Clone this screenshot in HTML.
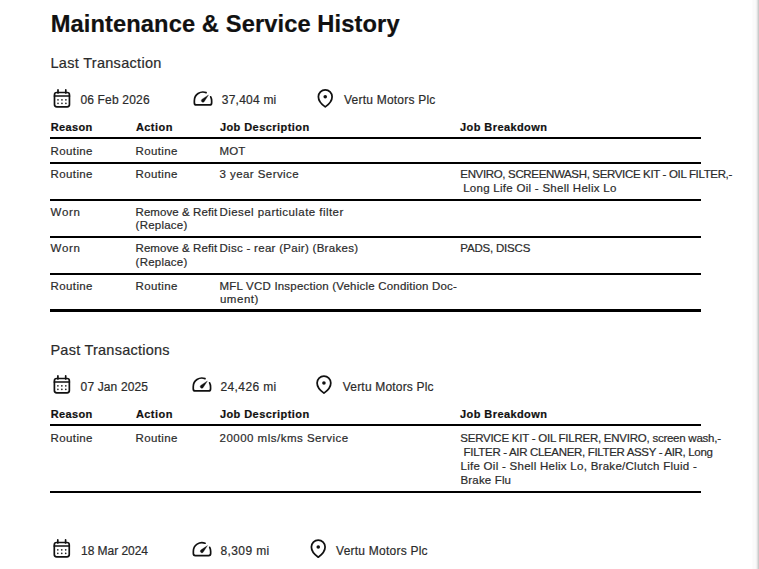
<!DOCTYPE html><html><head><meta charset='utf-8'><title>Maintenance &amp; Service History</title><style>

*{margin:0;padding:0;box-sizing:border-box}
html,body{width:759px;height:569px;overflow:hidden;background:#fff}
body{position:relative;font-family:"Liberation Sans",sans-serif}
.t{position:absolute;white-space:pre;line-height:1;-webkit-text-stroke:0.2px currentColor}
.l{position:absolute;background:#000}

</style></head><body>
<div class=t style='left:50.65px;top:13px;font-size:23.7px;font-weight:700;color:#111;letter-spacing:0.096px'>Maintenance &amp; Service History</div>
<div class=t style='left:50.45px;top:56px;font-size:14.5px;font-weight:400;color:#2b2b2b;letter-spacing:0.304px'>Last Transaction</div>
<div class=t style='left:80.40px;top:94px;font-size:12px;font-weight:400;color:#2b2b2b;letter-spacing:0.179px'>06 Feb 2026</div>
<div class=t style='left:221.80px;top:94px;font-size:12px;font-weight:400;color:#2b2b2b;letter-spacing:0.221px'>37,404 mi</div>
<div class=t style='left:344.00px;top:94px;font-size:12px;font-weight:400;color:#2b2b2b;letter-spacing:0.218px'>Vertu Motors Plc</div>
<div class=t style='left:50.75px;top:122px;font-size:11px;font-weight:700;color:#111;letter-spacing:0.367px'>Reason</div>
<div class=t style='left:135.90px;top:122px;font-size:11px;font-weight:700;color:#111;letter-spacing:0.460px'>Action</div>
<div class=t style='left:219.90px;top:122px;font-size:11px;font-weight:700;color:#111;letter-spacing:0.435px'>Job Description</div>
<div class=t style='left:460.10px;top:122px;font-size:11px;font-weight:700;color:#111;letter-spacing:0.410px'>Job Breakdown</div>
<div class=t style='left:50.60px;top:146px;font-size:11.5px;font-weight:400;color:#2b2b2b;letter-spacing:0.376px'>Routine</div>
<div class=t style='left:135.50px;top:146px;font-size:11.5px;font-weight:400;color:#2b2b2b;letter-spacing:0.376px'>Routine</div>
<div class=t style='left:219.50px;top:146px;font-size:11.5px;font-weight:400;color:#2b2b2b;letter-spacing:0.088px'>MOT</div>
<div class=t style='left:50.60px;top:169px;font-size:11.5px;font-weight:400;color:#2b2b2b;letter-spacing:0.376px'>Routine</div>
<div class=t style='left:135.50px;top:169px;font-size:11.5px;font-weight:400;color:#2b2b2b;letter-spacing:0.376px'>Routine</div>
<div class=t style='left:219.50px;top:169px;font-size:11.5px;font-weight:400;color:#2b2b2b;letter-spacing:0.438px'>3 year Service</div>
<div class=t style='left:460.30px;top:169px;font-size:11.5px;font-weight:400;color:#2b2b2b;letter-spacing:-0.341px'>ENVIRO, SCREENWASH, SERVICE KIT - OIL FILTER,-</div>
<div class=t style='left:459.73px;top:183px;font-size:11.5px;font-weight:400;color:#2b2b2b;letter-spacing:0.276px'> Long Life Oil - Shell Helix Lo</div>
<div class=t style='left:50.60px;top:207px;font-size:11.5px;font-weight:400;color:#2b2b2b;letter-spacing:0.709px'>Worn</div>
<div class=t style='left:135.50px;top:207px;font-size:11.5px;font-weight:400;color:#2b2b2b;letter-spacing:0.082px'>Remove &amp; Refit</div>
<div class=t style='left:219.50px;top:207px;font-size:11.5px;font-weight:400;color:#2b2b2b;letter-spacing:0.442px'>Diesel particulate filter</div>
<div class=t style='left:135.60px;top:220px;font-size:11.5px;font-weight:400;color:#2b2b2b;letter-spacing:0.222px'>(Replace)</div>
<div class=t style='left:50.60px;top:243px;font-size:11.5px;font-weight:400;color:#2b2b2b;letter-spacing:0.709px'>Worn</div>
<div class=t style='left:135.50px;top:243px;font-size:11.5px;font-weight:400;color:#2b2b2b;letter-spacing:0.082px'>Remove &amp; Refit</div>
<div class=t style='left:219.50px;top:243px;font-size:11.5px;font-weight:400;color:#2b2b2b;letter-spacing:0.290px'>Disc - rear (Pair) (Brakes)</div>
<div class=t style='left:460.30px;top:243px;font-size:11.5px;font-weight:400;color:#2b2b2b;letter-spacing:-0.193px'>PADS, DISCS</div>
<div class=t style='left:135.60px;top:257px;font-size:11.5px;font-weight:400;color:#2b2b2b;letter-spacing:0.222px'>(Replace)</div>
<div class=t style='left:50.60px;top:281px;font-size:11.5px;font-weight:400;color:#2b2b2b;letter-spacing:0.376px'>Routine</div>
<div class=t style='left:135.50px;top:281px;font-size:11.5px;font-weight:400;color:#2b2b2b;letter-spacing:0.376px'>Routine</div>
<div class=t style='left:219.50px;top:281px;font-size:11.5px;font-weight:400;color:#2b2b2b;letter-spacing:0.204px'>MFL VCD Inspection (Vehicle Condition Doc-</div>
<div class=t style='left:219.90px;top:294px;font-size:11.5px;font-weight:400;color:#2b2b2b;letter-spacing:0.548px'>ument)</div>
<div class=t style='left:50.45px;top:343px;font-size:14.5px;font-weight:400;color:#2b2b2b;letter-spacing:0.243px'>Past Transactions</div>
<div class=t style='left:80.60px;top:381px;font-size:12px;font-weight:400;color:#2b2b2b;letter-spacing:0.132px'>07 Jan 2025</div>
<div class=t style='left:220.50px;top:381px;font-size:12px;font-weight:400;color:#2b2b2b;letter-spacing:0.383px'>24,426 mi</div>
<div class=t style='left:342.80px;top:381px;font-size:12px;font-weight:400;color:#2b2b2b;letter-spacing:0.185px'>Vertu Motors Plc</div>
<div class=t style='left:50.75px;top:409px;font-size:11px;font-weight:700;color:#111;letter-spacing:0.367px'>Reason</div>
<div class=t style='left:135.90px;top:409px;font-size:11px;font-weight:700;color:#111;letter-spacing:0.460px'>Action</div>
<div class=t style='left:219.90px;top:409px;font-size:11px;font-weight:700;color:#111;letter-spacing:0.435px'>Job Description</div>
<div class=t style='left:460.10px;top:409px;font-size:11px;font-weight:700;color:#111;letter-spacing:0.410px'>Job Breakdown</div>
<div class=t style='left:50.60px;top:433px;font-size:11.5px;font-weight:400;color:#2b2b2b;letter-spacing:0.376px'>Routine</div>
<div class=t style='left:135.50px;top:433px;font-size:11.5px;font-weight:400;color:#2b2b2b;letter-spacing:0.376px'>Routine</div>
<div class=t style='left:219.50px;top:433px;font-size:11.5px;font-weight:400;color:#2b2b2b;letter-spacing:0.491px'>20000 mls/kms Service</div>
<div class=t style='left:460.30px;top:433px;font-size:11.5px;font-weight:400;color:#2b2b2b;letter-spacing:-0.246px'>SERVICE KIT - OIL FILRER, ENVIRO, screen wash,-</div>
<div class=t style='left:460.74px;top:447px;font-size:11.5px;font-weight:400;color:#2b2b2b;letter-spacing:-0.333px'> FILTER - AIR CLEANER, FILTER ASSY - AIR, Long</div>
<div class=t style='left:460.50px;top:461px;font-size:11.5px;font-weight:400;color:#2b2b2b;letter-spacing:0.275px'>Life Oil - Shell Helix Lo, Brake/Clutch Fluid -</div>
<div class=t style='left:460.50px;top:475px;font-size:11.5px;font-weight:400;color:#2b2b2b;letter-spacing:0.160px'>Brake Flu</div>
<div class=t style='left:81.00px;top:545px;font-size:12px;font-weight:400;color:#2b2b2b;letter-spacing:-0.040px'>18 Mar 2024</div>
<div class=t style='left:220.50px;top:545px;font-size:12px;font-weight:400;color:#2b2b2b;letter-spacing:0.392px'>8,309 mi</div>
<div class=t style='left:336.10px;top:545px;font-size:12px;font-weight:400;color:#2b2b2b;letter-spacing:0.231px'>Vertu Motors Plc</div>
<div class=l style='left:50px;top:137px;width:651px;height:2px'></div>
<div class=l style='left:50px;top:162px;width:651px;height:2px'></div>
<div class=l style='left:50px;top:198.5px;width:651px;height:2.0px'></div>
<div class=l style='left:50px;top:236px;width:651px;height:2px'></div>
<div class=l style='left:50px;top:272.5px;width:651px;height:2.0px'></div>
<div class=l style='left:50px;top:309px;width:651px;height:3.3000000000000114px'></div>
<div class=l style='left:50px;top:424.4px;width:651px;height:2.0px'></div>
<div class=l style='left:50px;top:490.5px;width:651px;height:2.0px'></div>
<svg style='position:absolute;left:0;top:0' width='759' height='569' viewBox='0 0 759 569'><rect x='54.50' y='92.50' width='14.95' height='14.40' rx='2.3' fill='none' stroke='#111' stroke-width='1.7'/><path d='M54.50 96.00H69.45M58.00 89.90V93.00M65.80 89.90V93.00' fill='none' stroke='#111' stroke-width='1.7' stroke-linecap='round'/><circle cx='58.00' cy='99.80' r='0.85' fill='#222'/><circle cx='58.00' cy='103.30' r='0.85' fill='#222'/><circle cx='61.95' cy='99.80' r='0.85' fill='#222'/><circle cx='61.95' cy='103.30' r='0.85' fill='#222'/><circle cx='65.90' cy='99.80' r='0.85' fill='#222'/><circle cx='65.90' cy='103.30' r='0.85' fill='#222'/><path d='M210.71 96.77A8.65 8.65 0 0 1 211.65 100.70V102.95Q211.65 104.95 209.65 104.95H196.35Q194.35 104.95 194.35 102.95V100.70A8.65 8.65 0 0 1 206.10 92.62' fill='none' stroke='#111' stroke-width='1.7' stroke-linecap='round' stroke-linejoin='round'/><path d='M208.50 95.00L204.12 101.72A1.65 1.65 0 1 1 201.78 99.38Z' fill='#111' stroke='#111' stroke-width='0.3' stroke-linejoin='round'/><path d='M318.40 96.75A6.85 6.85 0 0 1 332.10 96.75C332.10 101.35 328.45 104.70 325.25 106.90C322.05 104.70 318.40 101.35 318.40 96.75Z' fill='none' stroke='#111' stroke-width='1.75' stroke-linejoin='round'/><circle cx='325.25' cy='96.75' r='1.8' fill='#111'/><rect x='54.40' y='378.50' width='14.95' height='14.40' rx='2.3' fill='none' stroke='#111' stroke-width='1.7'/><path d='M54.40 382.00H69.35M57.90 375.90V379.00M65.70 375.90V379.00' fill='none' stroke='#111' stroke-width='1.7' stroke-linecap='round'/><circle cx='57.90' cy='385.80' r='0.85' fill='#222'/><circle cx='57.90' cy='389.30' r='0.85' fill='#222'/><circle cx='61.85' cy='385.80' r='0.85' fill='#222'/><circle cx='61.85' cy='389.30' r='0.85' fill='#222'/><circle cx='65.80' cy='385.80' r='0.85' fill='#222'/><circle cx='65.80' cy='389.30' r='0.85' fill='#222'/><path d='M209.61 382.77A8.65 8.65 0 0 1 210.55 386.70V388.95Q210.55 390.95 208.55 390.95H195.25Q193.25 390.95 193.25 388.95V386.70A8.65 8.65 0 0 1 205.00 378.62' fill='none' stroke='#111' stroke-width='1.7' stroke-linecap='round' stroke-linejoin='round'/><path d='M207.40 381.00L203.02 387.72A1.65 1.65 0 1 1 200.68 385.38Z' fill='#111' stroke='#111' stroke-width='0.3' stroke-linejoin='round'/><path d='M317.10 382.95A6.85 6.85 0 0 1 330.80 382.95C330.80 387.55 327.15 390.90 323.95 393.10C320.75 390.90 317.10 387.55 317.10 382.95Z' fill='none' stroke='#111' stroke-width='1.75' stroke-linejoin='round'/><circle cx='323.95' cy='382.95' r='1.8' fill='#111'/><rect x='54.30' y='542.50' width='14.95' height='14.40' rx='2.3' fill='none' stroke='#111' stroke-width='1.7'/><path d='M54.30 546.00H69.25M57.80 539.90V543.00M65.60 539.90V543.00' fill='none' stroke='#111' stroke-width='1.7' stroke-linecap='round'/><circle cx='57.80' cy='549.80' r='0.85' fill='#222'/><circle cx='57.80' cy='553.30' r='0.85' fill='#222'/><circle cx='61.75' cy='549.80' r='0.85' fill='#222'/><circle cx='61.75' cy='553.30' r='0.85' fill='#222'/><circle cx='65.70' cy='549.80' r='0.85' fill='#222'/><circle cx='65.70' cy='553.30' r='0.85' fill='#222'/><path d='M209.71 547.37A8.65 8.65 0 0 1 210.65 551.30V553.55Q210.65 555.55 208.65 555.55H195.35Q193.35 555.55 193.35 553.55V551.30A8.65 8.65 0 0 1 205.10 543.22' fill='none' stroke='#111' stroke-width='1.7' stroke-linecap='round' stroke-linejoin='round'/><path d='M207.50 545.60L203.12 552.32A1.65 1.65 0 1 1 200.78 549.98Z' fill='#111' stroke='#111' stroke-width='0.3' stroke-linejoin='round'/><path d='M311.40 547.05A6.85 6.85 0 0 1 325.10 547.05C325.10 551.65 321.45 555.00 318.25 557.20C315.05 555.00 311.40 551.65 311.40 547.05Z' fill='none' stroke='#111' stroke-width='1.75' stroke-linejoin='round'/><circle cx='318.25' cy='547.05' r='1.8' fill='#111'/></svg>
<div style='position:absolute;left:752px;top:0;width:7px;height:569px;background:linear-gradient(90deg,#fcfcfc 0px 1px,#fafafa 1px 2px,#fbfbfb 2px 3px,#f9f9f9 3px 4px,#f1f1f1 4px 5px,#dfdfdf 5px 6px,#cacaca 6px 7px)'></div>
</body></html>
